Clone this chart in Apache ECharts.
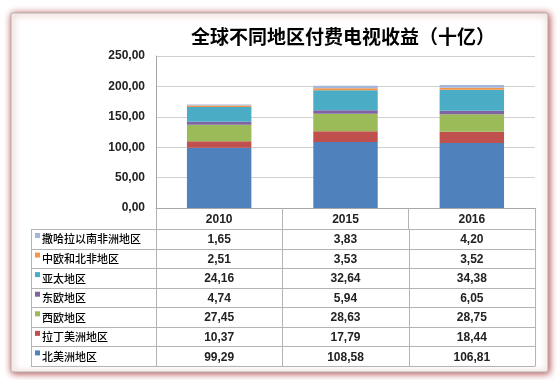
<!DOCTYPE html>
<html><head><meta charset="utf-8">
<script src="https://cdn.jsdelivr.net/npm/echarts@6/dist/echarts.min.js"></script>
<style>html,body{margin:0;padding:0;background:#fff}#c{width:559px;height:380px}</style>
</head><body><div id="c"></div>
<script>
const titleText = '全球不同地区付费电视收益（十亿）';
const categories = ['2010', '2015', '2016'];
const seriesNames = ['北美洲地区', '拉丁美洲地区', '西欧地区', '东欧地区', '亚太地区', '中欧和北非地区', '撒哈拉以南非洲地区'];
const northAmerica = [99.29, 108.58, 106.81];
const latinAmerica = [10.37, 17.79, 18.44];
const westernEurope = [27.45, 28.63, 28.75];
const easternEurope = [4.74, 5.94, 6.05];
const asiaPacific = [24.16, 32.64, 34.38];
const centralEuropeNorthAfrica = [2.51, 3.53, 3.52];
const subSaharanAfrica = [1.65, 3.83, 4.20];
const yTicks = [0, 50, 100, 150, 200, 250];
const seriesValues = [northAmerica, latinAmerica, westernEurope, easternEurope, asiaPacific, centralEuropeNorthAfrica, subSaharanAfrica];
const colors = ['#4f81bd', '#c0504d', '#9bbb59', '#8064a2', '#4bacc6', '#f79646', '#a3b7dc'];

const fmt = v => v.toFixed(2).replace('.', ',');

// layout
const G = {left: 156, right: 24, top: 56, bottom: 172};
const W = 559, H = 380;
const plotRight = W - G.right;
const plotBottom = H - G.bottom;
const headerH = 21;
const tableTop = plotBottom + headerH;
const tableLeft = 31;
const rowH = 19.57;
const colW = (plotRight - G.left) / categories.length;

const graphics = [];
graphics.push({type: 'rect', z: -10, shape: {x: 11, y: 13, width: 537, height: 359, r: 2},
  style: {fill: '#fff', stroke: '#b0b0b0', lineWidth: 1, shadowBlur: 7, shadowColor: 'rgba(175,55,55,0.95)', shadowOffsetX: 1, shadowOffsetY: 1}});

const lineStyle = {stroke: '#b4b4b4', lineWidth: 1};
const rows = seriesNames.map((n, i) => i).reverse();
for (let r = 0; r <= rows.length; r++) {
  const y = Math.round(tableTop + r * rowH) + 0.5;
  graphics.push({type: 'line', shape: {x1: tableLeft, y1: y, x2: plotRight, y2: y}, style: lineStyle});
}
const tableBottom = Math.round(tableTop + rows.length * rowH) + 0.5;
[tableLeft, G.left, G.left + colW, G.left + 2 * colW, plotRight].forEach(x => {
  const xx = Math.round(x) + 0.5;
  graphics.push({type: 'line', shape: {x1: xx, y1: tableTop, x2: xx, y2: tableBottom}, style: lineStyle});
});
rows.forEach((si, r) => {
  const yTop = tableTop + r * rowH;
  const yc = yTop + rowH / 2;
  graphics.push({type: 'rect', shape: {x: 35, y: yTop + 4, width: 5, height: 5}, style: {fill: colors[si]}});
  graphics.push({type: 'text', x: 42, y: yc + 0.5, style: {text: seriesNames[si], fill: '#000', font: '500 11px "Noto Sans CJK SC"', verticalAlign: 'middle', align: 'left'}});
  categories.forEach((c, ci) => {
    graphics.push({type: 'text', x: G.left + colW * (ci + 0.5), y: yc + 1, style: {text: fmt(seriesValues[si][ci]), fill: '#222', font: 'bold 12px "Liberation Sans", Arial', verticalAlign: 'middle', align: 'center'}});
  });
});

const chart = echarts.init(document.getElementById('c'), null, {renderer: 'canvas'});
chart.setOption({
  animation: false,
  backgroundColor: '#fff',
  title: {text: titleText, left: 338, top: 22, textAlign: 'center',
    textStyle: {fontFamily: '"Noto Sans CJK SC"', fontWeight: 'bold', fontSize: 19, color: '#000'}},
  grid: G,
  xAxis: {type: 'category', data: categories,
    axisLine: {lineStyle: {color: '#a8a8a8', width: 1}},
    axisTick: {show: true, length: headerH, alignWithLabel: false, interval: 0, lineStyle: {color: '#b4b4b4'}},
    axisLabel: {margin: 6, color: '#222', fontFamily: '"Liberation Sans", Arial', fontWeight: 'bold', fontSize: 12}},
  yAxis: {type: 'value', min: 0, max: 250, interval: 50,
    axisLine: {show: true, lineStyle: {color: '#a8a8a8'}},
    axisTick: {show: false},
    splitLine: {lineStyle: {color: '#d0d0d0', width: 1}},
    axisLabel: {margin: 11, color: '#222', fontFamily: '"Liberation Sans", Arial', fontWeight: 'bold', fontSize: 12, formatter: v => fmt(v)}},
  series: seriesNames.map((n, i) => ({
    name: n, type: 'bar', stack: 'total', barWidth: '51%',
    data: seriesValues[i], itemStyle: {color: colors[i]}
  })),
  graphic: graphics
});
</script></body></html>
